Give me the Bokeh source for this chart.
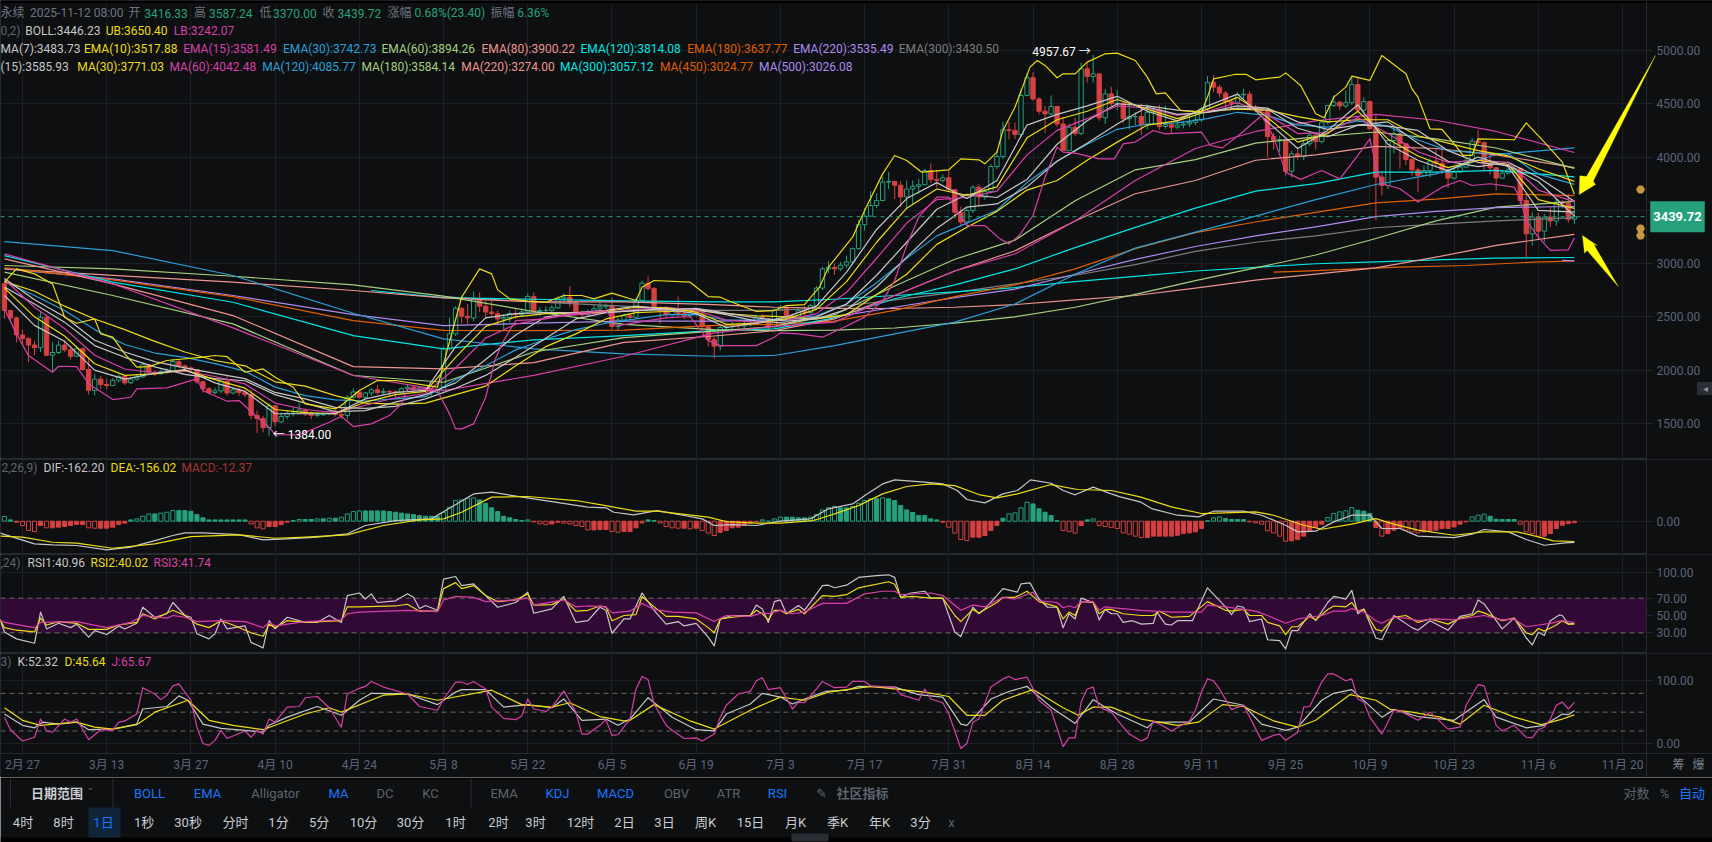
from bokeh.plotting import figure
from bokeh.layouts import column
from bokeh.models import (ColumnDataSource, FixedTicker, Range1d, Label, BoxAnnotation,
                          PolyAnnotation, NumeralTickFormatter)
from bokeh.core.properties import value
from bokeh.embed import file_html
from bokeh.resources import INLINE

# ---------- candles: one value per day, day 0 = Feb 27 2025, first candle day -3 ----------
CLOSE = [
2560,2490,2330,2295,2235,2210,2495,2140,2165,2235,
2190,2130,2200,2005,1810,1915,1865,1855,1905,1940,
1880,1915,1935,2050,1980,1965,1985,1990,2080,2040,
2020,2005,1890,1825,1790,1805,1895,1785,1815,1790,
1770,1575,1545,1460,1665,1515,1565,1595,1595,1625,
1590,1575,1580,1590,1615,1585,1575,1745,1795,1745,
1785,1815,1790,1800,1795,1785,1825,1840,1815,1835,
1810,1790,1810,2200,2340,2580,2505,2490,2670,2600,
2545,2530,2480,2495,2530,2520,2545,2690,2550,2560,
2560,2585,2670,2685,2635,2530,2520,2545,2575,2595,
2605,2410,2470,2510,2495,2655,2815,2765,2585,2560,
2520,2550,2530,2510,2540,2525,2410,2285,2225,2400,
2410,2420,2415,2425,2435,2500,2485,2405,2565,2590,
2510,2500,2558,2540,2606,2770,2950,2965,2950,2985,
3015,3140,3365,3445,3545,3592,3765,3770,3735,3625,
3700,3725,3740,3873,3790,3780,3805,3695,3482,3390,
3498,3717,3625,3676,3911,4005,4256,4250,4212,4578,
4745,4545,4430,4405,4475,4310,4060,4280,4220,4828,
4755,4780,4368,4593,4500,4505,4360,4380,4380,4305,
4420,4440,4287,4305,4280,4300,4310,4325,4349,4452,
4702,4656,4600,4521,4505,4584,4590,4468,4443,4437,
4193,4155,4165,3867,4030,4005,4124,4205,4145,4327,
4483,4515,4480,4510,4680,4440,4520,4265,3811,3733,
4155,4218,4124,3977,3880,3827,3874,3961,3940,3880,
3802,3858,3905,3970,4149,4135,3936,3899,3802,3849,
3880,3895,3592,3279,3436,3304,3436,3400,3577,3567,
3416.33,3439.72]
HIGH = [
2830,2530,2500,2380,2310,2275,2550,2520,2260,2275,
2280,2230,2225,2215,2105,1960,1945,1920,1925,1960,
1945,1930,1960,2075,2060,1995,2005,2015,2105,2100,
2050,2035,2010,1900,1840,1835,1900,1950,1835,1835,
1815,1815,1620,1570,1690,1665,1600,1620,1650,1690,
1640,1610,1600,1610,1620,1620,1650,1765,1830,1805,
1795,1830,1860,1830,1815,1810,1840,1870,1860,1850,
1840,1830,1825,2225,2490,2600,2590,2620,2738,2730,
2650,2650,2560,2525,2560,2585,2575,2720,2730,2590,
2600,2610,2690,2720,2790,2650,2560,2570,2610,2640,
2625,2680,2490,2530,2530,2680,2840,2880,2780,2600,
2600,2575,2690,2550,2565,2560,2535,2420,2310,2420,
2445,2450,2440,2450,2480,2520,2525,2490,2580,2610,
2600,2530,2580,2600,2620,2790,2970,3025,3000,3015,
3075,3150,3410,3520,3680,3660,3815,3860,3780,3775,
3780,3780,3795,3890,3940,3875,3835,3880,3700,3535,
3520,3735,3745,3700,3935,4060,4330,4330,4325,4640,
4790,4797,4560,4480,4578,4480,4380,4310,4370,4885,
4885,4957.67,4790,4640,4660,4630,4520,4515,4420,4500,
4495,4475,4490,4485,4340,4340,4340,4385,4400,4470,
4760,4769,4680,4620,4530,4610,4640,4620,4490,4460,
4445,4230,4200,4170,4060,4080,4150,4230,4230,4340,
4490,4580,4530,4625,4755,4755,4560,4530,4390,3870,
4170,4280,4250,4130,3985,3900,3920,3985,4075,4110,
3885,3905,3950,3995,4180,4255,4145,4035,3905,3880,
3910,3925,3880,3650,3480,3480,3465,3530,3610,3595,
3655,3587.24]
LOW = [
2480,2465,2260,2245,2075,2140,2170,2130,1980,2150,
2170,2100,2120,1995,1770,1760,1825,1820,1850,1885,
1860,1870,1900,1925,1965,1945,1960,1965,1985,2020,
1990,1985,1870,1790,1770,1770,1780,1760,1770,1755,
1745,1535,1410,1415,1384,1470,1505,1540,1565,1610,
1570,1540,1555,1570,1575,1565,1540,1535,1730,1730,
1735,1760,1770,1770,1755,1745,1775,1800,1795,1805,
1790,1760,1780,1800,2180,2320,2440,2435,2460,2545,
2480,2510,2420,2370,2450,2480,2500,2530,2540,2510,
2525,2540,2575,2630,2590,2510,2480,2500,2530,2555,
2570,2385,2370,2455,2470,2490,2640,2745,2560,2435,
2490,2500,2500,2480,2490,2500,2370,2220,2110,2185,
2370,2380,2390,2395,2410,2425,2450,2370,2390,2560,
2470,2470,2490,2510,2530,2600,2750,2910,2895,2930,
2960,2990,3130,3310,3440,3520,3590,3700,3605,3530,
3510,3560,3655,3735,3755,3715,3760,3680,3420,3355,
3355,3475,3540,3600,3660,3885,3980,4165,4170,4190,
4570,4530,4400,4225,4390,4280,4060,4075,4200,4205,
4700,4700,4340,4310,4470,4440,4320,4260,4300,4210,
4260,4300,4255,4265,4215,4260,4270,4280,4300,4330,
4430,4610,4560,4460,4450,4490,4545,4450,4420,4410,
3999,4070,4050,3825,3810,3975,3970,4100,4070,4130,
4305,4470,4440,4460,4490,4420,4400,4260,3405,3640,
3700,4035,3890,3925,3825,3670,3820,3810,3905,3840,
3710,3790,3850,3905,3965,4110,3870,3835,3685,3795,
3840,3860,3560,3060,3170,3230,3200,3340,3355,3520,
3385,3370.00]
FIRST_OPEN = 2810
FIRST_DAY = -3

MACD_HIST = [
36,10,-8,-33,-72,-80,-33,-51,-51,-46,
-41,-33,-26,-26,-51,-54,-54,-54,-46,-26,
-15,10,18,38,56,56,62,69,82,82,
82,77,51,26,10,10,10,10,10,10,
10,-21,-51,-59,-41,-41,-26,-8,5,13,
13,13,18,18,23,23,31,56,74,79,
79,79,79,79,74,69,62,56,51,44,
38,38,36,69,108,159,164,177,180,164,
138,103,74,38,26,13,5,10,-5,-21,
-26,-21,-8,-15,-21,-33,-41,-67,-67,-64,
-64,-80,-85,-80,-80,-51,-13,10,5,-13,
-41,-51,-54,-54,-59,-54,-72,-92,-110,-85,
-72,-51,-46,-33,-15,-3,10,0,18,31,
31,31,26,26,31,51,87,103,113,103,
103,113,138,159,172,172,180,172,159,120,
87,67,44,44,18,10,-8,-46,-92,-141,
-149,-123,-123,-110,-72,-33,23,56,64,103,
146,133,95,69,44,5,-72,-80,-92,-33,
10,18,-33,-41,-49,-56,-90,-100,-115,-126,
-126,-115,-115,-115,-115,-108,-95,-90,-82,-56,
3,26,33,20,13,13,13,-5,-13,-23,
-74,-90,-115,-154,-151,-141,-115,-77,-49,-23,
28,59,72,80,105,85,77,59,-49,-115,
-95,-69,-56,-69,-82,-90,-82,-77,-69,-56,
-56,-44,-23,-5,33,46,54,38,15,13,
13,13,-23,-82,-95,-115,-115,-95,-56,-31,
-18,-12.37]

# ---------- slow lines read at these days ----------
LONG_DAYS = [-3,15,35,55,70,85,100,115,125,135,145,155,165,175,185,195,205,215,225,235,245,258]
EMA60  = [2919,2700,2434,1949,1886,2170,2305,2365,2410,2520,2790,3040,3220,3590,3880,3975,4130,4190,4235,4170,4085,3894.26]
EMA80  = [3044,2810,2512,2033,2012,2070,2260,2320,2370,2480,2700,2930,3120,3400,3655,3780,3970,4020,4100,4080,4020,3900.22]
EMA120 = [3075,2825,2637,2324,2199,2284,2324,2371,2387,2490,2670,2800,2950,3150,3340,3520,3680,3750,3858,3858,3874,3814.08]
EMA180 = [2960,2847,2690,2465,2372,2370,2376,2420,2430,2460,2560,2690,2800,2950,3140,3290,3390,3480,3570,3605,3655,3637.77]
EMA220 = [2950,2856,2700,2520,2418,2440,2460,2460,2470,2500,2590,2680,2760,2900,3040,3160,3260,3345,3440,3490,3525,3535.49]
MA60   = [3091,2810,2396,1949,1808,1950,2130,2350,2410,2450,2700,2930,3090,3400,3780,4080,4240,4340,4400,4345,4240,4042.48]
MA120  = [3205,3122,2888,2534,2293,2199,2152,2130,2137,2230,2340,2450,2620,2900,3145,3295,3445,3600,3742,3842,4024,4085.77]
MA180  = [2982,2950,2881,2800,2694,2550,2430,2380,2370,2375,2395,2440,2500,2590,2710,2840,2960,3080,3235,3400,3530,3584.14]
MA220  = [2950,2890,2825,2747,2678,2640,2640,2615,2590,2580,2578,2590,2615,2660,2700,2770,2845,2900,2960,3060,3170,3274.00]
EMA300 = [(70,2690),(85,2640),(100,2600),(115,2560),(125,2560),(135,2590),(145,2660),(155,2730),(165,2810),(175,2890),(185,2990),(195,3115),(205,3200),(215,3260),(225,3336),(235,3370),(245,3400),(258,3430.50)]
MA300  = [(58,2747),(70,2680),(85,2665),(100,2650),(115,2640),(125,2640),(135,2665),(145,2700),(155,2735),(165,2775),(175,2830),(185,2880),(195,2930),(205,2965),(215,2998),(225,3015),(235,3035),(245,3051),(258,3057.12)]
MA450  = [(208,2919),(213,2929),(229,2966),(240,2982),(251,3013),(256,3020),(258,3024.77)]
MA500  = [(256,3030),(257,3028),(258,3026.08)]

# ---------- faster lines read at these days ----------
SHORT_DAYS = [-3,2,7,12,17,22,27,32,37,42,47,52,57,62,67,72,77,82,87,92,97,102,107,112,117,122,127,132,137,142,147,152,157,162,167,172,177,182,187,192,197,202,207,212,217,222,227,232,237,242,247,252,258]
EMA7  = [2700,2420,2270,2000,1915,1970,2005,1880,1800,1590,1590,1590,1730,1790,1810,2220,2490,2530,2540,2540,2560,2600,2570,2530,2400,2440,2500,2600,2920,3320,3610,3760,3610,3780,4300,4400,4480,4570,4430,4340,4480,4590,4330,4080,4250,4490,4120,3970,3870,4000,3910,3500,3483.73]
EMA10 = [2770,2500,2320,2060,1950,1965,2000,1910,1830,1630,1600,1590,1700,1770,1800,2120,2410,2500,2530,2535,2550,2590,2585,2545,2430,2440,2480,2570,2830,3200,3520,3700,3640,3720,4180,4350,4430,4540,4450,4360,4450,4560,4370,4140,4220,4430,4170,4010,3900,3970,3930,3600,3517.88]
EMA15 = [2850,2590,2390,2140,2010,1975,1990,1940,1870,1690,1630,1600,1670,1740,1780,2020,2300,2430,2490,2520,2540,2570,2590,2560,2470,2450,2470,2530,2730,3050,3380,3600,3620,3680,4020,4250,4360,4480,4460,4390,4430,4510,4400,4220,4230,4370,4220,4050,3950,3970,3950,3690,3581.49]
EMA30 = [2830,2700,2560,2380,2240,2160,2120,2060,1990,1840,1760,1720,1710,1730,1750,1910,2040,2190,2290,2380,2440,2480,2520,2520,2470,2470,2480,2510,2620,2820,3050,3260,3380,3500,3760,3960,4120,4260,4310,4320,4360,4420,4390,4300,4280,4340,4290,4160,4060,4040,4030,3840,3742.73]
MA15  = [2780,2620,2450,2230,2120,2030,1960,1920,1900,1770,1690,1610,1620,1700,1770,1880,2100,2330,2500,2530,2545,2555,2580,2570,2520,2460,2440,2500,2620,2890,3200,3510,3650,3620,3790,4120,4340,4500,4480,4440,4420,4460,4450,4270,4190,4300,4330,4130,3960,3910,3950,3810,3585.93]
MA30  = [2830,2740,2600,2480,2380,2270,2170,2090,2040,1890,1850,1760,1690,1680,1690,1770,1850,2040,2220,2340,2480,2540,2550,2560,2530,2510,2500,2480,2520,2710,2900,3180,3340,3490,3690,3780,3970,4140,4300,4340,4430,4450,4440,4380,4330,4350,4350,4200,4130,4060,4010,3890,3771.03]
BOLL  = [2860,2660,2500,2280,2170,2080,2020,1970,1920,1790,1730,1650,1640,1660,1730,1830,1950,2120,2300,2480,2540,2560,2565,2580,2535,2490,2460,2480,2570,2780,3060,3330,3530,3560,3720,3960,4130,4310,4470,4400,4420,4480,4460,4330,4260,4300,4290,4250,4060,3950,3920,3770,3446.23]

BOLL_UB = [(-3,2825),(-1,2950),(2,2903),(5,2809),(7,2496),(9,2440),(12,2480),(13,2340),(15,2309),(17,2152),(19,2027),(21,2033),(24,2090),(30,2121),(32,2137),(34,2127),(37,1980),(40,2011),(42,1933),(45,1839),(47,1683),(52,1636),(53,1667),(56,1808),(59,1902),(62,1902),(69,1840),(70,2058),(73,2684),(76,2950),(78,2903),(79,2753),(81,2669),(84,2647),(87,2637),(90,2700),(93,2700),(95,2669),(98,2722),(102,2653),(103,2778),(105,2841),(111,2825),(114,2690),(116,2684),(118,2637),(122,2550),(125,2559),(127,2606),(130,2615),(132.5,2778),(134,2966),(136,3107),(138,3248),(140,3498),(143,3842),(145,4014),(147,3967),(149.5,3858),(154,3880),(156,3983),(159,3974),(160,3936),(162,4046),(163,4249),(165,4468),(167.5,4844),(168.7,4906),(170,4860),(172,4744),(173,4781),(175,4781),(177,4891),(180,4969),(182,4975),(185,4906),(187,4750),(188.5,4593),(190,4603),(192.5,4437),(196,4421),(197,4562),(198,4734),(201.5,4775),(203.5,4775),(205,4725),(209,4750),(210,4790),(212.5,4672),(215,4406),(216.4,4368),(218,4562),(220,4656),(221,4759),(224,4719),(226,4953),(230,4781),(231,4640),(232,4562),(234,4265),(236,4259),(238,4124),(239.5,4015),(241,4015),(242,4171),(248,4162),(250,4321),(253,4140),(256,3952),(258,3650.40)]
BOLL_LB = [(-3,2575),(-1,2340),(1,2136),(5,1980),(6,2036),(9,2033),(11,1870),(14,1761),(15,1723),(18,1745),(19,1824),(24,1833),(29,1917),(30,1808),(34,1708),(36,1714),(39,1558),(41,1464),(42,1395),(46,1392),(51,1511),(53,1567),(55,1470),(58,1495),(61,1573),(63,1683),(64,1824),(66,1824),(69,1802),(71,1589),(72,1448),(73,1448),(75,1495),(77,1745),(78.6,2105),(80,2277),(82,2465),(87,2481),(91,2528),(97,2559),(99,2418),(104,2465),(107,2490),(111,2503),(114,2277),(116,2230),(122,2230),(125,2309),(126,2350),(129,2340),(133,2309),(136.5,2400),(140,2497),(143,2650),(145,2841),(147,3170),(149,3435),(152,3623),(154,3623),(155.5,3482),(157,3357),(160,3357),(162.5,3232),(164,3185),(165.7,3263),(168,3451),(170,3811),(172,4093),(173,4046),(175,4036),(179,3983),(181.5,3983),(183,4124),(185,4140),(188,4249),(190,4218),(196,4234),(197.5,4108),(199.5,4086),(202.5,4218),(206,4390),(208,4187),(210,3858),(212.5,3790),(216,3874),(219,3795),(222,4015),(224,4171),(225,3921),(226,3749),(229,3702),(232,3577),(236,3717),(239,3780),(241,3733),(244,3749),(248,3717),(249,3608),(250,3404),(252,3248),(254,3123),(257,3129),(258,3242.07)]

# ---------- MACD lines ----------
DIF = [(-3.7,-92),(2,-174),(5,-182),(9,-187),(14,-220),(18,-200),(22,-149),(25,-110),(27,-90),(30,-90),(36,-103),(40,-144),(44,-136),(49,-123),(54,-97),(57,-33),(62,5),(68,18),(75,210),(78,223),(85,172),(94,108),(97,103),(98.3,69),(101.6,49),(105.5,82),(110,44),(113,18),(115,-33),(118,-26),(122,-33),(126,0),(131,18),(134,95),(138,133),(140.4,210),(143,287),(145,318),(150,300),(153,287),(155.4,236),(157,167),(160,141),(163,210),(165.4,236),(167.6,318),(171,292),(173,236),(175,203),(178,262),(181,210),(182.5,187),(185.8,149),(187.7,97),(192,46),(195.5,33),(198,77),(203,77),(206,46),(210,-31),(212,-82),(215,-77),(218,-5),(221,46),(224,46),(226,-56),(229,-56),(232,-115),(238,-126),(241,-100),(243,-64),(247,-82),(250,-141),(253,-185),(256.5,-167),(258,-162.20)]
DEA = [(-3.7,-115),(0,-123),(5,-162),(9,-169),(15,-208),(22,-174),(28,-118),(36,-105),(42,-131),(47,-123),(54,-105),(60,-33),(66,10),(70,18),(73,69),(78,185),(84,190),(92,159),(96,128),(102,77),(105.5,77),(114,31),(117,-3),(122,-15),(126,-15),(131.5,5),(135,56),(139,120),(143,210),(147,267),(151,287),(155,274),(159,205),(162,180),(165.4,210),(171,282),(175.4,244),(181,236),(185.8,187),(191,110),(196,59),(205,72),(208,46),(213,-31),(216,-62),(221,-23),(225,20),(228,-23),(232,-69),(238,-108),(243,-82),(248.5,-82),(252,-120),(254.5,-151),(258,-156.02)]

# ---------- RSI lines ----------
RSI1 = [(-4,50),(-3,31),(-1,23),(2,18),(3,54),(4,34.5),(6,41),(8,36),(9,40),(11,25),(12,32.6),(14,28),(16,38),(17,34.5),(19,41),(20,59.5),(22,48),(24,52),(25,65),(27,50),(28,48),(29,29),(31,23),(32,29),(33,46),(34,34.5),(37,38),(38,19),(40,12.6),(41,44),(42,34.5),(44,48),(47,42),(49,42),(51,50),(53,42),(54,73),(56,76),(57,69),(58,75),(59,65),(62,67),(64,75),(65,71),(66,58),(67,61.5),(69,56),(70,92),(72,95),(73,84.6),(75,86.5),(77,73),(79,59.5),(82,65),(84,77),(85,52.6),(88,57.6),(90,72),(92,42),(94,44),(96,59.5),(97,56),(98,29.5),(100,46),(101,46),(103,76),(105,56),(107,40),(109,43),(110,38),(112,41),(114,25),(115,15),(116,46),(118,50),(121,50),(122,62),(123,57.6),(124,42),(125,66),(126,68),(127,52),(129,61.5),(130,56),(133,84.6),(134,85),(135,82),(137,85),(139,94),(142,96),(144,97),(145,94),(146,71),(147.7,76),(150,78),(151,70),(153,70),(155,30.7),(156,25.7),(158,59.5),(159,52),(160,57.6),(163,81),(165.4,77),(166,86.5),(167.5,87.7),(169,69),(170.4,59.5),(172,59.5),(173,35.7),(174,52),(175,46),(176,70),(178,65),(179,45),(180,57),(181,52),(182,52),(183,42),(184.5,44),(186,40),(188,41),(188.6,54),(190,40),(191,39),(192,44),(194.5,44),(197,82),(200,60),(201,51),(202,61),(203,59.5),(204,43),(206,46),(207,22),(209,21),(210,11.4),(211,32.6),(212,32.6),(214,52),(215,44),(217,65),(218,72),(220,69),(221,79),(222,52),(223,57.6),(225,24),(226,22),(228,50),(231,36),(232,33),(234,44),(237,33),(239,49),(241,52),(242,68),(243,63.4),(246,34.5),(248,47),(250,24),(251,16),(252,30.7),(253,27),(254,44),(255.5,50.7),(256,50),(257,40),(258,40.96)]
RSI2 = [(-4,48),(-3,36),(-1,33),(2,31),(3,47),(4,39),(6,43),(9,41),(11,34),(14,34),(16,39),(19,42),(20,52),(22,46),(25,56),(27,50),(29,40),(31,36),(33,44),(35,39),(38,30),(40,26),(41,40),(42,36),(44,44),(47,42),(53,44),(54,60),(56,60),(62,61),(64,63),(66,55),(69,55),(70,81),(72,88),(73,81),(75,84.5),(77,73),(79,66),(82,68),(84,75),(85,62),(88,62.6),(90,69),(92,55),(94,56),(96,61),(97,60),(98,44),(100,50),(102,51),(103,72),(105,60),(107,49),(109,49),(112,46),(114,36),(115,30),(116,46),(118,48),(121,50),(122,56),(123,52),(124,45),(125,56),(126,56),(127,52),(129,57),(130,52),(133,73),(135,72),(137,74),(139,82),(144,89),(145,86),(146,71),(148,72),(151,70),(153,70),(155,50),(156,43),(158,57),(159,53),(160,57),(162,65),(163,71),(165,71),(167,78),(169,66),(172,60),(173,46),(174,54),(175,50),(176,66),(178,65),(179,52),(180,57),(181,57),(183,52),(186,50),(188,50),(189,55),(191,48),(194,49),(197,66),(200,56),(201,55),(203,57),(204,50),(206,50),(207,42),(209,38),(210,28),(211,37),(212,37),(214,49),(215,45),(217,57),(218,61),(220,60),(221,65),(222,55),(223,57),(225,34),(226,32),(228,48),(230,50),(232,42),(234,46),(237,40),(239,47),(241,50),(242,55),(243,53),(246,44),(248,47),(250,30),(251,28),(252,35),(253,32),(255,39),(256,44),(257,40),(258,40.02)]
RSI3 = [(-4,46),(-3,42),(2,36),(3,42),(9,43),(14,36),(18,42),(20,50),(24,47),(25,50),(27,48),(29,43),(33,44),(37,43),(40,36),(41,42),(42,38),(47,43),(53,45),(54,52),(56,54),(64,56),(69,54.5),(70,68),(72,72),(75,71),(77,66),(82,68),(84,70),(85,62),(90,68),(92,60),(94,61),(97,60),(98,53),(101,55),(103,64),(105,57),(108,54),(112,53),(115,43),(117,50),(121,49),(123,53),(124,52),(126,56),(128,52),(130,54),(133,64),(137,64),(140,75),(143,78),(145,78),(146,74),(151,76),(153,73),(156,56),(158,62),(160,60),(163,71),(165,69),(168,77),(169,67),(172,65),(173,59),(174,61),(175,59),(176,66),(178,66),(179,56),(180,60),(181,59),(186,56),(191,54),(196,54),(197,62),(200,60),(203,57),(205,55),(207,50),(210,41),(212,46),(214,48),(216,50),(218,55),(220,55),(221,58),(223,54),(225,44),(226,41),(228,48),(230,47),(232,44),(235,46),(238,45),(241,48),(243,50),(246,45),(248,46),(250,37),(252,39),(254,41),(256,44),(258,41.74)]

# ---------- KDJ lines ----------
KDJ_K = [(-3,47),(0,29),(2,25),(3.3,34),(6,31),(9,34),(11,22),(15,23),(19,31),(20,55),(24,59),(26,76),(27.5,69),(30,31),(33,24),(37,21),(40,18),(41,29),(44,42),(49,59),(53,45),(56,69),(58,80),(64,79),(69,62),(72,82),(73,86),(77,86),(80,58),(84,62),(88,57),(90,71),(93,37),(97,39),(99,29),(101,39),(104,73),(108,42),(112,22),(115,20),(117,47),(121,63),(123,80),(126,74),(128,63),(130,71),(133.5,83),(137,85),(139,91),(145,90),(149,78),(153,74),(156,31),(157,29),(161,71),(164,83),(167,91),(171,58),(175,32),(178,70),(180,58),(182,47),(187,25),(188,34),(194,34),(198,71),(203,61),(206,31),(210,21),(212,26),(216,69),(218,80),(221,86),(226,42),(228,54),(232,43),(238,37),(243,70),(245,42),(250,25),(253,29),(256,47),(257,46),(258,52.32)]
KDJ_D = [(-3,57),(0,37),(3,29),(9,34),(12,26),(15,23),(19,30),(22,50),(27.5,69),(31,37),(35,29),(40,22),(47,47),(51,57),(53,50),(60,77),(64,79),(69,69),(78,85),(83,62),(88,58),(91,65),(96,43),(100,36),(101,37),(105,62),(111,36),(115,23),(121,53),(126,74),(130,69),(134,82),(141,91),(150,82),(154,75),(157,45),(160,45),(163,69),(168,86),(173,57),(175.5,45),(178,58),(181,58),(186,39),(192,29),(195.5,34),(199.5,62),(203,59),(208,36),(212,26),(215,37),(220.7,78),(225,69),(227.5,54),(231,50),(235.7,42),(239,31),(243,61),(248,42),(252.5,30),(256,39),(258,45.64)]
KDJ_J = [(-3,42),(-2,22),(0,4),(2,10),(3,39),(4,20),(5,18),(7,39),(8,34),(9,39),(11,6),(13,22),(15,21),(16,34),(17,36),(19,47),(20,89),(22,79),(23,70),(24,77),(25,92),(26,95),(28,69),(29,26),(30,0),(31,-3),(32,5),(33,21),(34,8),(37,20),(38,10),(39,21),(40,15),(41,39),(42,34),(44,58),(46,59),(47,73),(49,75),(51,57),(53,26),(54,79),(56,88),(57,91),(58,99),(60,90),(64,79),(66,59),(69,53),(70,71),(72,98),(73,98),(74,94),(75,99),(77,87),(78,58),(80,40),(82,38),(83,44),(84,71),(85,55),(87,51),(88,58),(90,84),(92,50),(93,15),(94,15),(96,29),(97,38),(98,13),(99,14),(101,39),(102,87),(103,107),(104,102),(105,63),(107,29),(108,21),(110,8),(112,9),(113,4),(115,15),(116,42),(117,61),(119,79),(121,83),(122,100),(123,105),(124,86),(126,89),(128,55),(129,66),(130,65),(132,87),(133,99),(135,89),(137,90),(138,99),(140,99),(141,92),(145,90),(146,78),(149,69),(150,87),(151,71),(153,65),(154,47),(156,-8),(157,0),(158,34),(159,39),(161,90),(163,103),(164,107),(165,102),(167,106),(169,69),(171,53),(173,-5),(174,9),(175,9),(176,66),(177,87),(178,90),(179,58),(181,50),(183,26),(184,15),(186,4),(187,9),(188,36),(190,26),(191,20),(194,36),(195,53),(196,82),(197,103),(198,100),(199,87),(201,54),(203,61),(206,5),(208,13),(209,15),(210,5),(212,18),(213,58),(214,59),(216,98),(217,111),(218,111),(220,100),(221,103),(222,71),(223,66),(224,42),(226,15),(228,53),(229,52),(232,37),(234,50),(237,23),(239,26),(240,61),(242,94),(243,92),(245,29),(246,20),(248,29),(250,10),(251,9),(252,22),(253,26),(254,39),(255,61),(256,66),(257,55),(258,65.67)]

DATE_TICKS = [0,14,28,42,56,70,84,98,112,126,140,154,168,182,196,210,224,238,252,266]
DATE_LABELS = ["2月 27","3月 13","3月 27","4月 10","4月 24","5月 8","5月 22","6月 5","6月 19","7月 3","7月 17","7月 31","8月 14","8月 28","9月 11","9月 25","10月 9","10月 23","11月 6","11月 20"]
PRICE_TICKS = [1500,2000,2500,3000,3500,4000,4500,5000]
LAST = 3439.72
HIGH_TAG = 4985
LOW_TAG = 1395

# ---------- styles ----------
BG = "#0d0f11"; GRID = "#1c1f23"; AXC = "#26292e"; TICKC = "#5b6679"
GREEN = "#26a17c"; RED = "#d64040"
WHITE = "#c6c6c6"; YELLOW = "#ecdc14"; PINK = "#d93fa8"; BLUE = "#2b9fd8"; OLIVE = "#a6cf7e"
SALMON = "#ee9490"; CYAN = "#00e5e5"; ORANGE = "#e05f00"; PURPLE = "#ae8af0"; GRAY = "#7d7d7d"
FONT = "Roboto, 'Noto Sans CJK SC', sans-serif"

DPX = 6.015                 # px per day
def to_x(px): return (px - 22) / DPX
X0, X1, XR = to_x(0), to_x(1712), to_x(1646)

def mk(h, yr, ticks):
    p = figure(width=1712, height=h, x_range=Range1d(X0, X1), y_range=Range1d(*yr),
               output_backend="svg", toolbar_location=None,
               x_axis_location=None, y_axis_location="right",
               background_fill_color=BG, border_fill_color=BG, outline_line_color=AXC)
    p.min_border = 0
    p.xgrid.ticker = FixedTicker(ticks=DATE_TICKS)
    p.xgrid.grid_line_color = GRID
    p.ygrid.grid_line_color = GRID
    ax = p.yaxis[0]
    ax.fixed_location = XR
    ax.ticker = FixedTicker(ticks=ticks)
    ax.formatter = NumeralTickFormatter(format="0.00")
    ax.major_label_text_color = TICKC
    ax.major_label_text_font = FONT
    ax.major_label_text_font_size = "12px"
    ax.major_tick_in = 0; ax.major_tick_out = 6; ax.major_tick_line_color = AXC
    ax.minor_tick_line_color = None; ax.axis_line_color = AXC
    ax.major_label_standoff = 4
    # grid stops at the scale line
    p.add_layout(BoxAnnotation(left=XR, fill_color=BG, fill_alpha=1, line_color=None, level="underlay"))
    return p

def pairs(lst):
    return [a for a, _ in lst], [b for _, b in lst]

def ln(p, xs, ys, color, w=1.2):
    p.line(xs, ys, line_color=color, line_width=w, line_join="round")

def dash(p, lv, color="#6a6a6a", d="5 4"):
    p.segment([X0], [lv], [XR], [lv], line_color=color, line_dash=d, line_width=1)

def hdr(p, bottom, items, y):
    for txt, x, col in items:
        p.add_layout(Label(x=x, y=bottom - y, x_units="screen", y_units="screen", text=txt,
                           text_color=col, text_font=FONT, text_font_size="12px",
                           text_baseline="middle", text_align="left"))

# ---------- main price panel: page y 0..459 ----------
PX = 0.10653  # px per price unit
def to_y(py): return 5000 - (py - 50) / PX
main = mk(459, (to_y(459), to_y(0)), PRICE_TICKS)
main.add_layout(BoxAnnotation(bottom=to_y(2.5), fill_color="#000000", fill_alpha=1, line_color=None, level="underlay"))

days = [FIRST_DAY + i for i in range(len(CLOSE))]
opens = [FIRST_OPEN] + CLOSE[:-1]
up = [c >= o for c, o in zip(CLOSE, opens)]
src = ColumnDataSource(dict(
    x=days, h=HIGH, l=LOW,
    top=[max(o, c) for o, c in zip(opens, CLOSE)],
    bot=[min(o, c) for o, c in zip(opens, CLOSE)],
    lc=[GREEN if u else RED for u in up],
    fc=[BG if u else RED for u in up]))
main.segment("x", "l", "x", "h", source=src, line_color="lc", line_width=1)
main.vbar("x", 0.72, "bot", "top", source=src, fill_color="fc", line_color="lc", line_width=1)

for v, c in [(EMA300, GRAY), (MA300, CYAN), (MA450, ORANGE), (MA500, PURPLE)]:
    ln(main, *pairs(v), c)
for v, c in [(MA220, SALMON), (MA180, OLIVE), (EMA220, PURPLE), (EMA180, ORANGE), (EMA120, CYAN),
             (MA120, BLUE), (EMA80, SALMON), (EMA60, OLIVE), (MA60, PINK)]:
    ln(main, LONG_DAYS, v, c)
for v, c in [(EMA30, BLUE), (MA30, YELLOW), (MA15, WHITE), (EMA15, PINK), (EMA10, YELLOW), (EMA7, WHITE), (BOLL, WHITE)]:
    ln(main, SHORT_DAYS, v, c)
ln(main, *pairs(BOLL_UB), YELLOW)
ln(main, *pairs(BOLL_LB), PINK)

dash(main, LAST, GREEN, "4 4")

main.text([177.6], [HIGH_TAG], text=["4957.67 →"], text_color="#ffffff", text_font=value(FONT),
          text_font_size="12px", text_align="right", text_baseline="middle")
main.text([41.6], [LOW_TAG], text=["← 1384.00"], text_color="#ffffff", text_font=value(FONT),
          text_font_size="12px", text_align="left", text_baseline="middle")

# small orange markers right of the candles
main.scatter([269, 269, 269], [3695, 3329, 3263], marker="hex", size=8, fill_color="#c8963e", line_color="#c8963e")

# yellow arrows, outlined in page pixels
A1 = [(1655, 55), (1592.7, 180.7), (1595, 184), (1578.7, 194), (1579.3, 175.3), (1586, 176)]
A2 = [(1617.7, 286), (1593.3, 244), (1596.7, 245), (1582, 235), (1584, 252.7), (1586.7, 250)]
for a in (A1, A2):
    main.add_layout(PolyAnnotation(xs=[to_x(x) for x, _ in a], ys=[to_y(y) for _, y in a],
                                   xs_units="data", ys_units="data",
                                   fill_color="#ffff00", fill_alpha=1, line_color="#ffff00", line_width=1))

# last-price tag
main.add_layout(Label(x=1677, y=LAST, x_units="screen", y_units="data", text="3439.72",
                      text_color="#ffffff", text_font=FONT, text_font_size="13px", text_font_style="bold",
                      text_align="center", text_baseline="middle",
                      background_fill_color=GREEN, padding=(3, 11)))
main.add_layout(Label(x=1705, y=459 - 388, x_units="screen", y_units="screen", text="◂",
                      text_color="#8a8f98", text_font=FONT, text_font_size="10px",
                      text_align="center", text_baseline="middle",
                      background_fill_color="#2a2d33", padding=(6, 1)))

L = "#6d7480"; V = GREEN
hdr(main, 459, [("永续", 0, L), ("2025-11-12 08:00", 29.6, L), ("开", 128, L), ("3416.33", 143.7, V), ("高", 193.6, L),
                ("3587.24", 208.4, V), ("低", 259, L), ("3370.00", 272.6, V), ("收", 322, L), ("3439.72", 337, V),
                ("涨幅", 387, L), ("0.68%(23.40)", 414, V), ("振幅", 490, L), ("6.36%", 516.7, V)], 12.5)
hdr(main, 459, [("0,2)", 0, "#606670"), ("BOLL:3446.23", 24.7, WHITE), ("UB:3650.40", 105.3, YELLOW), ("LB:3242.07", 173.3, PINK)], 30.5)
hdr(main, 459, [("MA(7):3483.73", 0, WHITE), ("EMA(10):3517.88", 83.4, YELLOW), ("EMA(15):3581.49", 182.7, PINK),
                ("EMA(30):3742.73", 282.5, BLUE), ("EMA(60):3894.26", 381, OLIVE), ("EMA(80):3900.22", 481, SALMON),
                ("EMA(120):3814.08", 580, CYAN), ("EMA(180):3637.77", 686.8, ORANGE), ("EMA(220):3535.49", 792.7, PURPLE),
                ("EMA(300):3430.50", 898.3, GRAY)], 48.5)
hdr(main, 459, [("(15):3585.93", 0, WHITE), ("MA(30):3771.03", 76.8, YELLOW), ("MA(60):4042.48", 169, PINK),
                ("MA(120):4085.77", 261.7, BLUE), ("MA(180):3584.14", 361, OLIVE), ("MA(220):3274.00", 460.8, SALMON),
                ("MA(300):3057.12", 559.5, CYAN), ("MA(450):3024.77", 659.4, ORANGE), ("MA(500):3026.08", 758.6, PURPLE)], 66)

# ---------- MACD panel: page y 459..554 ----------
MP = 0.13
macd = mk(95, ((520.7 - 554) / MP, (520.7 - 459) / MP), [0])
prev = [0] + MACD_HIST[:-1]
bar = ColumnDataSource(dict(
    x=days, t=[max(v, 0) for v in MACD_HIST], b=[min(v, 0) for v in MACD_HIST],
    lc=[GREEN if v >= 0 else RED for v in MACD_HIST],
    fc=[BG if abs(v) > abs(q) else (GREEN if v >= 0 else RED) for v, q in zip(MACD_HIST, prev)]))
macd.vbar("x", 0.68, "b", "t", source=bar, fill_color="fc", line_color="lc", line_width=1)
ln(macd, *pairs(DIF), WHITE)
ln(macd, *pairs(DEA), YELLOW)
hdr(macd, 554, [("2,26,9)", 1, "#606670"), ("DIF:-162.20", 43, WHITE), ("DEA:-156.02", 110, YELLOW), ("MACD:-12.37", 181, "#a83232")], 467.7)

# ---------- RSI panel: page y 554..653 ----------
RP = 0.866
rsi = mk(99, (100 - (653 - 571.7) / RP, 100 + (571.7 - 554) / RP), [30, 50, 70, 100])
rsi.add_layout(BoxAnnotation(bottom=30, top=70, right=XR, fill_color="#300a35", fill_alpha=1, line_color=None, level="underlay"))
for lv in (70, 30):
    dash(rsi, lv)
ln(rsi, *pairs(RSI1), WHITE)
ln(rsi, *pairs(RSI2), YELLOW)
ln(rsi, *pairs(RSI3), PINK)
hdr(rsi, 653, [(",24)", 0, "#606670"), ("RSI1:40.96", 27, WHITE), ("RSI2:40.02", 90, YELLOW), ("RSI3:41.74", 153, PINK)], 562.7)

# ---------- KDJ panel + date axis: page y 653..777, axis line at y=753 ----------
KP = 0.627
KAX = -(753 - 743) / KP
kdj = figure(width=1712, height=124, x_range=Range1d(X0, X1),
             y_range=Range1d(-(777 - 743) / KP, 100 + (680.3 - 653) / KP),
             output_backend="svg", toolbar_location=None, x_axis_location="below", y_axis_location="right",
             background_fill_color=BG, border_fill_color=BG, outline_line_color=AXC)
kdj.min_border = 0
kdj.xgrid.ticker = FixedTicker(ticks=DATE_TICKS)
kdj.xgrid.grid_line_color = GRID
kdj.ygrid.grid_line_color = GRID
ay = kdj.yaxis[0]
ay.fixed_location = XR
ay.ticker = FixedTicker(ticks=[0, 100])
ay.formatter = NumeralTickFormatter(format="0.00")
ay.major_label_text_color = TICKC; ay.major_label_text_font = FONT; ay.major_label_text_font_size = "12px"
ay.major_tick_in = 0; ay.major_tick_out = 6; ay.major_tick_line_color = AXC
ay.minor_tick_line_color = None; ay.axis_line_color = AXC; ay.major_label_standoff = 4
kdj.add_layout(BoxAnnotation(left=XR, fill_color=BG, fill_alpha=1, line_color=None, level="underlay"))
kdj.add_layout(BoxAnnotation(top=KAX, fill_color=BG, fill_alpha=1, line_color=None, level="underlay"))
for lv in (80, 50, 20):
    dash(kdj, lv)
ln(kdj, *pairs(KDJ_K), WHITE)
ln(kdj, *pairs(KDJ_D), YELLOW)
ln(kdj, *pairs(KDJ_J), PINK)
hdr(kdj, 777, [("3)", 0, "#606670"), ("K:52.32", 17, WHITE), ("D:45.64", 64, YELLOW), ("J:65.67", 111, PINK)], 661.7)
xa = kdj.xaxis[0]
xa.fixed_location = KAX
xa.ticker = FixedTicker(ticks=DATE_TICKS)
xa.major_label_overrides = dict(zip(DATE_TICKS, DATE_LABELS))
xa.major_label_text_color = TICKC
xa.major_label_text_font = FONT
xa.major_label_text_font_size = "12px"
xa.major_tick_in = 0; xa.major_tick_out = 0; xa.minor_tick_line_color = None
xa.axis_line_color = AXC; xa.major_label_standoff = 4
hdr(kdj, 777, [("筹", 1672, "#7a808a"), ("爆", 1692, "#7a808a")], 764)

# ---------- toolbar strip: page y 777..842 ----------
bar_fig = figure(width=1712, height=65, x_range=Range1d(0, 1712), y_range=Range1d(842, 777),
                 output_backend="svg", toolbar_location=None, x_axis_location=None, y_axis_location=None,
                 background_fill_color=BG, border_fill_color=BG, outline_line_color=None)
bar_fig.min_border = 0
bar_fig.grid.visible = False
bar_fig.quad(left=[0], right=[1712], top=[777], bottom=[778.5], fill_color="#000000", line_color=None)
bar_fig.quad(left=[0], right=[1712], top=[837], bottom=[842], fill_color="#000000", line_color=None)
bar_fig.quad(left=[791], right=[828], top=[833], bottom=[841], fill_color="#2a2d33", line_color=None)
bar_fig.segment([10, 112.5, 470.6], [778, 778, 778], [10, 112.5, 470.6], [807, 807, 807], line_color="#2a2d33", line_width=1)
bar_fig.quad(left=[88], right=[120], top=[807], bottom=[837], fill_color="#10243a", line_color=None)

BLUE_T = "#1677ff"; G_T = "#5d646e"; W_T = "#c9cdd2"
ROW1 = ["ˇ", "BOLL", "EMA", "Alligator", "MA", "DC", "KC", "EMA", "KDJ", "MACD", "OBV", "ATR", "RSI", "✎", "对数", "%", "自动"]
ROW1_X = [90, 149, 207, 275, 338, 384.5, 430, 503.6, 557, 615, 676, 728, 777, 821, 1636, 1664, 1691.5]
ROW1_C = [G_T, BLUE_T, BLUE_T, G_T, BLUE_T, G_T, G_T, G_T, BLUE_T, BLUE_T, G_T, G_T, BLUE_T, G_T, G_T, G_T, BLUE_T]
ROW1B = ["日期范围", "社区指标"]
ROW1B_X = [56.5, 862]
ROW1B_C = [W_T, G_T]
ROW2 = ["4时", "8时", "1日", "1秒", "30秒", "分时", "1分", "5分", "10分", "30分", "1时", "2时", "3时", "12时", "2日", "3日", "周K", "15日", "月K", "季K", "年K", "3分", "x"]
ROW2_X = [22.5, 63, 103, 143.7, 187.6, 235, 278, 318.7, 363, 410, 455, 498, 535, 580, 624, 664, 705, 750, 795, 837, 879, 920, 951]
ROW2_C = [W_T, W_T, BLUE_T] + [W_T] * 19 + [G_T]
bar_fig.text(ROW1_X, [793] * len(ROW1), text=ROW1, text_color=ROW1_C, text_font=value(FONT), text_font_size="13px",
             text_align="center", text_baseline="middle")
bar_fig.text(ROW1B_X, [793] * len(ROW1B), text=ROW1B, text_color=ROW1B_C, text_font=value(FONT), text_font_size="13px",
             text_font_style="bold", text_align="center", text_baseline="middle")
bar_fig.text(ROW2_X, [822] * len(ROW2), text=ROW2, text_color=ROW2_C, text_font=value(FONT), text_font_size="13px",
             text_align="center", text_baseline="middle")

page = column(main, macd, rsi, kdj, bar_fig, spacing=0)
open("out.html", "w").write(file_html(page, INLINE))
